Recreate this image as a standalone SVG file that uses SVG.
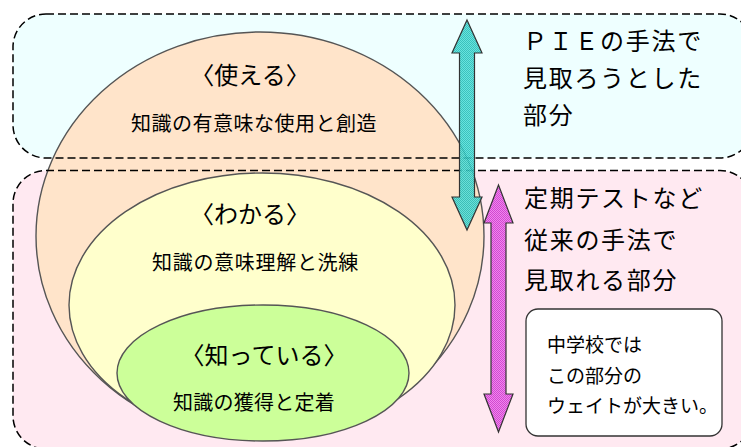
<svg xmlns="http://www.w3.org/2000/svg" width="741" height="447" viewBox="0 0 741 447">
<defs>
<pattern id="cyanDots" width="2" height="2" patternUnits="userSpaceOnUse">
<rect width="2" height="2" fill="#55E0DA"/>
<rect width="1" height="1" fill="#22B8B4"/>
<rect x="1" y="1" width="1" height="1" fill="#22B8B4"/>
</pattern>
<pattern id="magDots" width="2" height="2" patternUnits="userSpaceOnUse">
<rect width="2" height="2" fill="#EE77EE"/>
<rect width="1" height="1" fill="#CC33CC"/>
<rect x="1" y="1" width="1" height="1" fill="#CC33CC"/>
</pattern>
</defs>
<style>
.zone{stroke:none}
.zoneLine{fill:none;stroke:#000;stroke-width:1.5;stroke-dasharray:8 4}
.ell{stroke:#555;stroke-width:1.4}
.arrow{stroke:#333;stroke-width:1.2;fill-opacity:0.88}
text{font-family:"Noto Sans CJK JP","Noto Sans",sans-serif;fill:#000}
.title{font-size:24px;text-anchor:middle}
.sub{font-size:20px}
.side{font-size:24px;letter-spacing:1.7px}
.note{font-size:19px}
</style>
<g id="zone-pie">
<rect class="zone" x="13" y="14" width="740" height="144" rx="33" fill="#EEFFFF"/>
</g>
<g id="zone-test">
<rect class="zone" x="13" y="170.5" width="740" height="278.5" rx="33" fill="#FFE9F1"/>
</g>
<g id="node-tsukaeru">
<ellipse class="ell" cx="260" cy="236" rx="224" ry="204" fill="#FFE4CA"/>
</g>
<g id="node-wakaru">
<ellipse class="ell" cx="262" cy="305" rx="193" ry="132" fill="#FFFFCC"/>
</g>
<g id="node-shitteiru">
<ellipse class="ell" cx="263" cy="373" rx="146" ry="68" fill="#CCFF99"/>
</g>
<g id="zone-lines">
<rect class="zoneLine" x="13" y="14" width="740" height="144" rx="33"/>
<rect class="zoneLine" x="13" y="170.5" width="740" height="278.5" rx="33"/>
</g>
<g id="labels">
<text class="title" x="250" y="83.5">〈使える〉</text>
<text class="sub" x="131" y="130.5" letter-spacing="0.5">知識の有意味な使用と創造</text>
<text class="title" x="250" y="223">〈わかる〉</text>
<text class="sub" x="152" y="270" letter-spacing="0.7">知識の意味理解と洗練</text>
<text class="title" x="264" y="364">〈知っている〉</text>
<text class="sub" x="173" y="410" letter-spacing="0.25">知識の獲得と定着</text>
</g>
<g id="connectors">
<path class="arrow" fill="url(#cyanDots)" d="M467,20 L482,53 L474.5,53 L474.5,197 L482,197 L467,230 L452,197 L459.5,197 L459.5,53 L452,53 Z"/>
<path class="arrow" fill="url(#magDots)" d="M498.5,185 L513,223 L506,223 L506,394 L513,394 L498.5,432 L484,394 L491,394 L491,223 L484,223 Z"/>
</g>
<g id="text-pie">
<text class="side" x="523" y="49.5">ＰＩＥの手法で</text>
<text class="side" x="523" y="87">見取ろうとした</text>
<text class="side" x="523" y="123.5">部分</text>
</g>
<g id="text-test">
<text class="side" x="524" y="207">定期テストなど</text>
<text class="side" x="524" y="249">従来の手法で</text>
<text class="side" x="524" y="289">見取れる部分</text>
</g>
<g id="note">
<rect x="526" y="309" width="196" height="127" rx="12" fill="#FFFFFF" stroke="#333" stroke-width="1.3"/>
<text class="note" x="547" y="352">中学校では</text>
<text class="note" x="547" y="383">この部分の</text>
<text class="note" x="547" y="413">ウェイトが大きい。</text>
</g>
</svg>
